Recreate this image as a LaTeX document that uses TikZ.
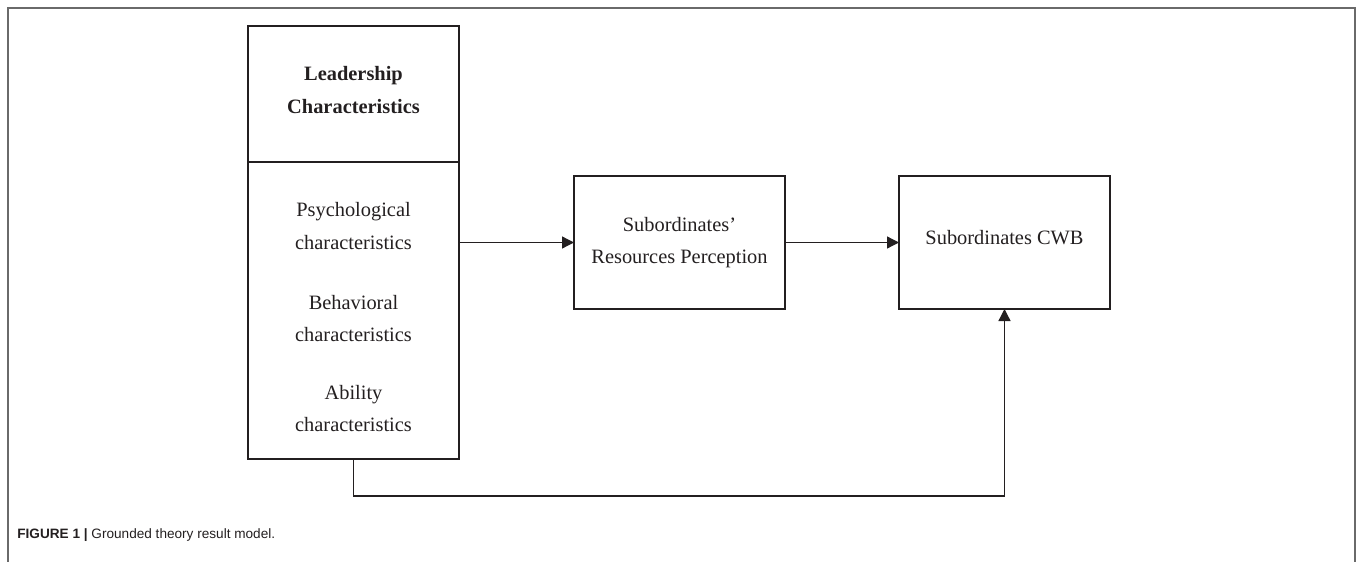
\documentclass[tikz,border=0pt]{standalone}
\usepackage{fontspec}
\setmainfont{Liberation Serif}
\newfontfamily\capfont{Liberation Sans}
\usetikzlibrary{arrows.meta}
\definecolor{ink}{HTML}{231F20}
\definecolor{framegray}{HTML}{6A6A6A}
\tikzset{
  boxnode/.style={draw=ink, line width=1.3pt, minimum width=105.5pt, inner sep=0pt, outer sep=0pt},
  txt/.style={text=ink, align=center, font=\fontsize{10.2}{16.3}\selectfont, inner sep=0pt},
  conn/.style={draw=ink, line width=0.65pt, -{Triangle[length=6pt,width=6pt]}},
  plainconn/.style={draw=ink, line width=0.65pt},
}
\begin{document}
\begin{tikzpicture}[x=0.5pt,y=-0.5pt]
\useasboundingbox (0,0) rectangle (1357,562);
% frame
\draw[framegray, line width=0.7pt] (8,562) -- (8,8) -- (1355,8) -- (1355,562);
% left box
\node[boxnode, minimum height=68pt] (lchead) at (353.5,94) {};
\node[boxnode, minimum height=148.5pt] (lcbody) at (353.5,310.5) {};
\node[txt, font=\fontsize{10.2}{16.5}\selectfont\bfseries] (lcheadtxt) at (353.5,90) {Leadership\\Characteristics};
\node[txt] (lcbodytxt) at (353.5,317.5) {Psychological\\characteristics\\[13.5pt]Behavioral\\characteristics\\[12.5pt]Ability\\characteristics};
% middle and right boxes
\node[boxnode, minimum height=66.5pt, txt] (sr) at (679.5,242.5) {Subordinates’\\Resources Perception};
\node[boxnode, minimum height=66.5pt] (cwb) at (1004.5,242.5) {};
\node[txt] (cwbtxt) at (1004.5,238) {Subordinates CWB};
% connectors
\coordinate (fb) at (354,496);
\draw[conn] (lcbody.east |- sr.west) -- (sr.west);
\draw[conn] (sr.east) -- (cwb.west);
\draw[conn] (lcbody.south) -- (lcbody.south |- fb) -| (cwb.south);
% caption
\node[anchor=west, inner sep=0pt, text=ink, font=\capfont\fontsize{6.8}{8}\selectfont] (cap) at (17,535) {\textbf{FIGURE 1 |} Grounded theory result model.};
\end{tikzpicture}
\end{document}
